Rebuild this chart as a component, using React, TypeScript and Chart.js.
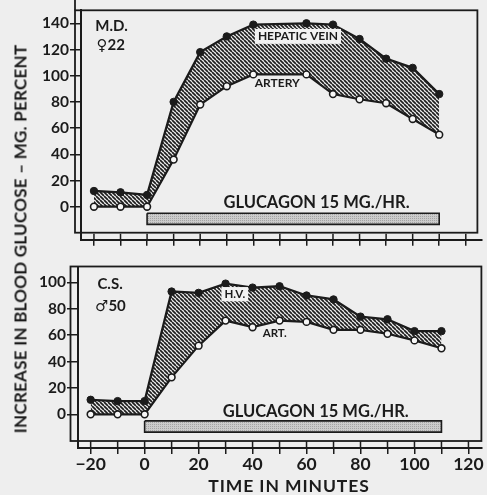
import React, { useEffect, useRef } from 'react';
import { Chart, registerables } from 'chart.js';

Chart.register(...registerables);

// ---------------- data ----------------
const timesTop = [-20, -10, 0, 10, 20, 30, 40, 60, 70, 80, 90, 100, 110];
const hepaticVeinTop = [12, 11, 9, 80, 118, 130, 139, 140, 139, 128, 113, 106, 86];
const arteryTop = [0, 0, 0, 36, 78, 92, 101, 101, 86, 82, 79, 67, 55];

const timesBottom = [-20, -10, 0, 10, 20, 30, 40, 50, 60, 70, 80, 90, 100, 110];
const hepaticVeinBottom = [11, 10, 10, 93, 92, 99, 96, 97, 90, 87, 74, 72, 63, 63];
const arteryBottom = [0, 0, 0, 28, 52, 71, 66, 71, 70, 64, 64, 61, 56, 50];

const glucagonInfusion = [0, 110]; // minutes
const glucagonBand = [-5, -13.5]; // drawn just below zero

const xTicks = [-20, -10, 0, 10, 20, 30, 40, 50, 60, 70, 80, 90, 100, 110, 120];
const xTickLabelValues = [-20, 0, 20, 40, 60, 80, 100, 120];
const yTicksTop = [0, 20, 40, 60, 80, 100, 120, 140];
const yTicksBottom = [0, 20, 40, 60, 80, 100];

const yTitle = 'INCREASE IN BLOOD GLUCOSE – MG. PERCENT';
const xTitle = 'TIME IN MINUTES';
const glucagonText = 'GLUCAGON 15 MG./HR.';

const INK = '#1b1b1b';
const PAPER = '#eeeeee';
const FONT = 'Lato, "DejaVu Sans", sans-serif';

type Lbl = { text: string; x: number; y: number; size: number };

const labelsTop: Lbl[] = [
  { text: 'M.D.', x: -13.4, y: 137.5, size: 15 },
  { text: '♀22', x: -13.7, y: 123, size: 15 },
  { text: 'HEPATIC VEIN', x: 56.8, y: 130, size: 12 },
  { text: 'ARTERY', x: 49, y: 94, size: 12 },
  { text: glucagonText, x: 63.8, y: 3, size: 16.5 },
];
const labelsBottom: Lbl[] = [
  { text: 'C.S.', x: -12.8, y: 98.7, size: 15 },
  { text: '♂50', x: -12.7, y: 81.7, size: 15 },
  { text: 'H.V.', x: 33.4, y: 91, size: 11.5 },
  { text: 'ART.', x: 48.2, y: 61, size: 11.5 },
  { text: glucagonText, x: 63.4, y: 2.2, size: 16.5 },
];
const bgLabels = ['HEPATIC VEIN', 'H.V.'];

// ---------------- patterns ----------------
function hatchPattern(ctx: CanvasRenderingContext2D) {
  const s = 4;
  const c = document.createElement('canvas');
  c.width = s; c.height = s;
  const g = c.getContext('2d')!;
  g.strokeStyle = '#1e1e1e';
  g.lineWidth = 1.7;
  g.beginPath();
  for (const k of [-1, 0, 1]) {
    g.moveTo(k * s, 0);
    g.lineTo(k * s + s, s);
  }
  g.stroke();
  return ctx.createPattern(c, 'repeat')!;
}
function stipplePattern(ctx: CanvasRenderingContext2D) {
  const c = document.createElement('canvas');
  c.width = 2; c.height = 2;
  const g = c.getContext('2d')!;
  g.fillStyle = '#cbcbcb';
  g.fillRect(0, 0, 2, 2);
  g.fillStyle = '#a4a4a4';
  g.fillRect(0, 0, 1, 1);
  return ctx.createPattern(c, 'repeat')!;
}

// ---------------- decoration plugin ----------------
const decoPlugin = {
  id: 'panelDeco',
  afterDraw(chart: any, _args: any, opts: any) {
    const { ctx, chartArea: ca, scales } = chart;
    const x = scales.x, y = scales.y;
    const f = opts.frame;
    ctx.save();
    ctx.strokeStyle = INK;
    ctx.lineWidth = 1.8;
    const L = ca.left + f.left, T = ca.top + f.top, R = ca.right + f.right, B = ca.bottom + f.bottom;
    ctx.strokeRect(L, T, R - L, B - T);
    if (f.extendTop) {
      ctx.beginPath();
      ctx.moveTo(L, T);
      ctx.lineTo(L, 0);
      ctx.stroke();
    }
    // inner part of the x tick marks
    ctx.lineWidth = 1.5;
    ctx.beginPath();
    for (const t of x.ticks) {
      const px = x.getPixelForValue(t.value);
      ctx.moveTo(px, ca.bottom);
      ctx.lineTo(px, ca.bottom - opts.innerTick);
    }
    ctx.stroke();
    // text labels
    ctx.textAlign = 'center';
    ctx.textBaseline = 'middle';
    for (const l of opts.labels as Lbl[]) {
      const px = x.getPixelForValue(l.x), py = y.getPixelForValue(l.y);
      ctx.font = `bold ${l.size}px ${FONT}`;
      if (bgLabels.includes(l.text)) {
        const w = ctx.measureText(l.text).width;
        ctx.fillStyle = '#f2f2f2';
        ctx.fillRect(px - w / 2 - 3, py - l.size * 0.62, w + 6, l.size * 1.24);
      }
      ctx.fillStyle = INK;
      ctx.fillText(l.text, px, py);
    }
    ctx.restore();
  },
};

type PanelCfg = {
  times: number[]; vein: number[]; artery: number[];
  width: number; height: number;
  padding: { left: number; right: number; top: number; bottom: number };
  yWidth: number; xHeight: number;
  xMin: number; xMax: number; yMin: number; yMax: number;
  yTicks: number[]; showXLabels: boolean;
  frame: any; innerTick: number; labels: Lbl[];
};

function Panel({ cfg, style }: { cfg: PanelCfg; style: React.CSSProperties }) {
  const ref = useRef<HTMLCanvasElement>(null);
  useEffect(() => {
    const canvas = ref.current!;
    const ctx = canvas.getContext('2d')!;
    const hatch = hatchPattern(ctx);
    const stipple = stipplePattern(ctx);
    const pts = (xs: number[], ys: number[]) => xs.map((t, i) => ({ x: t, y: ys[i] }));
    const [g0, g1] = glucagonInfusion;
    const [b0, b1] = glucagonBand;
    const chart = new Chart(canvas, {
      type: 'line',
      data: {
        datasets: [
          {
            data: pts(cfg.times, cfg.vein),
            borderColor: INK, borderWidth: 2.3,
            pointRadius: 3.7, pointBackgroundColor: INK, pointBorderColor: INK, pointBorderWidth: 1,
            fill: '+1', backgroundColor: hatch, tension: 0,
          },
          {
            data: pts(cfg.times, cfg.artery),
            borderColor: INK, borderWidth: 2.2,
            pointRadius: 3.4, pointBackgroundColor: '#f7f7f7', pointBorderColor: INK, pointBorderWidth: 1.6,
            fill: false, tension: 0,
          },
          {
            data: [{ x: g0, y: b0 }, { x: g1, y: b0 }],
            borderWidth: 0, pointRadius: 0, fill: '+1', backgroundColor: stipple,
          },
          {
            data: [{ x: g0, y: b1 }, { x: g1, y: b1 }],
            borderWidth: 0, pointRadius: 0, fill: false,
          },
          {
            data: [{ x: g0, y: b0 }, { x: g1, y: b0 }, { x: g1, y: b1 }, { x: g0, y: b1 }, { x: g0, y: b0 }],
            borderColor: INK, borderWidth: 1.6, pointRadius: 0, fill: false,
          },
        ],
      } as any,
      options: {
        animation: false,
        responsive: false,
        devicePixelRatio: 1,
        layout: { padding: cfg.padding },
        plugins: {
          legend: { display: false },
          tooltip: { enabled: false },
          filler: { drawTime: 'beforeDatasetsDraw' },
          panelDeco: { frame: cfg.frame, innerTick: cfg.innerTick, labels: cfg.labels },
        } as any,
        scales: {
          x: {
            type: 'linear', min: cfg.xMin, max: cfg.xMax,
            afterBuildTicks: (s: any) => { s.ticks = xTicks.map((v) => ({ value: v })); },
            afterFit: (s: any) => { s.height = cfg.xHeight; },
            border: { display: true, color: INK, width: 2 },
            grid: { display: true, drawOnChartArea: false, drawTicks: true, tickLength: 6, color: INK, lineWidth: 1.5 },
            ticks: {
              display: cfg.showXLabels, color: INK, font: { family: FONT, size: 17.5, weight: 'bold' }, padding: 0,
              maxRotation: 0, autoSkip: false,
              callback: (v: any) => (xTickLabelValues.includes(v) ? (v < 0 ? '−' + Math.abs(v) : String(v)) : ''),
            },
          },
          y: {
            type: 'linear', min: cfg.yMin, max: cfg.yMax,
            afterBuildTicks: (s: any) => { s.ticks = cfg.yTicks.map((v) => ({ value: v })); },
            afterFit: (s: any) => { s.width = cfg.yWidth; },
            border: { display: true, color: INK, width: 2 },
            grid: { display: true, drawOnChartArea: false, drawTicks: true, tickLength: 11, color: INK, lineWidth: 1.5 },
            ticks: { color: INK, font: { family: FONT, size: 15.5, weight: 'bold' }, padding: 1, autoSkip: false },
          },
        } as any,
      },
      plugins: [decoPlugin as any],
    });
    return () => chart.destroy();
  }, [cfg]);
  return (
    <canvas ref={ref} width={cfg.width} height={cfg.height}
      style={{ position: 'absolute', width: cfg.width, height: cfg.height, ...style }} />
  );
}

const topCfg: PanelCfg = {
  times: timesTop, vein: hepaticVeinTop, artery: arteryTop,
  width: 487, height: 250,
  padding: { left: 0, right: 0, top: 9.5, bottom: 0 },
  yWidth: 81, xHeight: 7.5,
  xMin: -24.88, xMax: 125.88, yMin: -25.17, yMax: 149.92,
  yTicks: yTicksTop, showXLabels: false,
  frame: { left: -6, top: 0, right: -4, bottom: -7, extendTop: true },
  innerTick: 6, labels: labelsTop,
};

const bottomCfg: PanelCfg = {
  times: timesBottom, vein: hepaticVeinBottom, artery: arteryBottom,
  width: 487, height: 245,
  padding: { left: 0, right: 5, top: 16.5, bottom: 0 },
  yWidth: 78, xHeight: 47,
  xMin: -24.69, xMax: 124.8, yMin: -25.53, yMax: 111.97,
  yTicks: yTicksBottom, showXLabels: true,
  frame: { left: -7.5, top: 0, right: 0, bottom: -7, extendTop: false },
  innerTick: 7, labels: labelsBottom,
};

export default function App() {
  return (
    <div style={{ position: 'fixed', left: 0, top: 0, width: 487, height: 495, background: PAPER, overflow: 'hidden' }}>
      <Panel cfg={topCfg} style={{ left: 0, top: 0 }} />
      <Panel cfg={bottomCfg} style={{ left: 0, top: 250 }} />
      <div style={{
        position: 'absolute', left: 20, top: 238.5, transform: 'translate(-50%, -50%) rotate(-90deg)',
        whiteSpace: 'nowrap', font: `bold 17px ${FONT}`, color: INK, letterSpacing: '0.25px',
      }}>{yTitle}</div>
      <div style={{
        position: 'absolute', left: 289, top: 485, transform: 'translate(-50%, -50%)',
        whiteSpace: 'nowrap', font: `bold 17.5px ${FONT}`, color: INK, letterSpacing: '0.9px',
      }}>{xTitle}</div>
    </div>
  );
}
